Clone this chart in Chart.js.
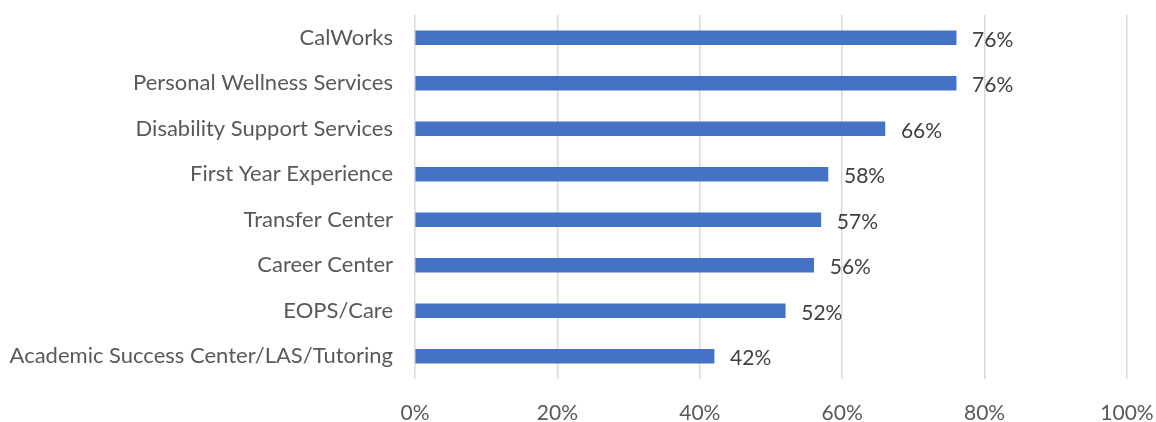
<!DOCTYPE html>
<html>
<head>
<meta charset="utf-8">
<script src="https://cdn.jsdelivr.net/npm/chart.js@4"></script>
<style>
html,body{margin:0;padding:0;background:#fff;}
#wrap{width:1156px;height:422px;position:relative;}
</style>
</head>
<body>
<div id="wrap"><canvas id="c" width="1156" height="422"></canvas></div>
<script>
const categories = [
  "CalWorks",
  "Personal Wellness Services",
  "Disability Support Services",
  "First Year Experience",
  "Transfer Center",
  "Career Center",
  "EOPS/Care",
  "Academic Success Center/LAS/Tutoring"
];
const values = [76, 76, 66, 58, 57, 56, 52, 42];
const xTicks = [0, 20, 40, 60, 80, 100];

const FONT = "Lato, 'Open Sans', sans-serif";

const dataLabels = {
  id: 'dataLabels',
  afterDatasetsDraw(chart) {
    const ctx = chart.ctx;
    const meta = chart.getDatasetMeta(0);
    ctx.save();
    ctx.font = "21px " + FONT;
    ctx.fillStyle = "#404040";
    ctx.textAlign = "left";
    ctx.textBaseline = "middle";
    meta.data.forEach((bar, i) => {
      ctx.fillText(values[i] + "%", bar.x + 16, bar.y + 2);
    });
    ctx.restore();
  }
};

new Chart(document.getElementById('c'), {
  type: 'bar',
  data: {
    labels: categories,
    datasets: [{
      data: values,
      backgroundColor: '#4472C4',
      borderWidth: 0,
      barThickness: 14
    }]
  },
  options: {
    indexAxis: 'y',
    responsive: false,
    animation: false,
    devicePixelRatio: 1,
    layout: { padding: { left: 0, top: 15, right: 29, bottom: 0 } },
    plugins: { legend: { display: false }, tooltip: { enabled: false } },
    scales: {
      x: {
        min: 0, max: 100,
        afterBuildTicks(scale) { scale.ticks = xTicks.map(v => ({ value: v })); },
        afterFit(scale) { scale.height = 43; scale.paddingLeft = 0; scale.paddingRight = 0; },
        grid: { color: '#d9d9d9', lineWidth: 1.5, drawTicks: false },
        border: { display: false },
        ticks: {
          padding: 22,
          color: '#595959',
          font: { family: FONT, size: 21 },
          callback: v => v + '%'
        }
      },
      y: {
        afterFit(scale) { scale.width = 415; scale.paddingTop = 0; scale.paddingBottom = 0; },
        grid: { display: false, drawTicks: false },
        border: { display: false },
        ticks: {
          padding: 22,
          color: '#595959',
          font: { family: FONT, size: 22 }
        }
      }
    }
  },
  plugins: [dataLabels]
});
</script>
</body>
</html>
